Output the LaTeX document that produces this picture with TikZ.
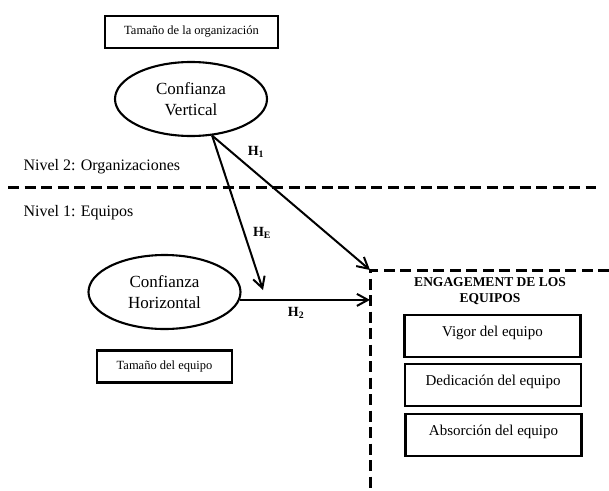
\documentclass[tikz,border=0pt]{standalone}
\usepackage{fontspec}
\setmainfont{Liberation Serif}
\usetikzlibrary{shapes.geometric,arrows.meta,positioning,calc}

\begin{document}
\begin{tikzpicture}[x=1pt, y=-1pt,
  every node/.style={font=\fontsize{16}{19}\selectfont},
  var/.style={draw, ellipse, line width=2.1pt, minimum width=152pt,
              minimum height=74pt, inner sep=0pt, align=center,
              font=\fontsize{17}{21}\selectfont},
  ctrl/.style={draw, line width=2.2pt, inner sep=0pt, minimum height=32pt,
               font=\fontsize{12.5}{15}\selectfont},
  dim/.style={draw, line width=2.2pt, inner sep=0pt, minimum width=176pt,
              minimum height=42pt, text depth=9pt,
              font=\fontsize{15}{18}\selectfont},
  hyp/.style={font=\fontsize{14}{16}\selectfont\bfseries},
  arr/.style={-{Straight Barb[length=11pt,width=12pt,line width=2pt]}, line width=2pt},
  lvl/.style={dash pattern=on 11pt off 5.5pt, line width=3pt}
]
\useasboundingbox (0,0) rectangle (609,490);

%% controls
\node[ctrl, minimum width=173pt] (torg) at (191.5,32) {Tamaño de la organización};
\node[ctrl, minimum width=135pt] (teq)  at (164.5,366.5) {Tamaño del equipo};

%% constructs
\node[var] (cv) at (191,99)  {Confianza\\Vertical};
\node[var] (ch) at (164.5,292) {Confianza\\Horizontal};

%% levels
\coordinate (lvlL) at (8,187);
\coordinate (lvlR) at (596,187);
\draw[lvl] (lvlL) -- (lvlR);
\node[anchor=base west] (n2) at (20,170) {Nivel 2: Organizaciones};
\node[anchor=base west] (n1) at (20,216) {Nivel 1: Equipos};

%% engagement region
\coordinate (corner) at (370,270);
\coordinate (cornerR) at (609,270);
\coordinate (cornerB) at (370,490);
\draw[lvl] (cornerR) -- (corner) -- (cornerB);
\node[font=\fontsize{13.5}{16.5}\selectfont\bfseries, align=center]
  (eng) at (490,291) {ENGAGEMENT DE LOS\\EQUIPOS};
\node[dim] (vig) at (492.5,336) {Vigor del equipo};
\node[dim] (ded) at (493,385)   {Dedicación del equipo};
\node[dim] (abs) at (493.5,435) {Absorción del equipo};

%% hypotheses
\coordinate (he) at (263,290);
\draw[arr] (cv.-60) -- (he);
\draw[arr] (cv.-60) -- (corner);
\draw[arr] (ch.-6) -- (ch.-6 -| corner);
\node[hyp] (h1) at (256,152) {H\textsubscript{1}};
\node[hyp] (hE) at (262,233) {H\textsubscript{E}};
\node[hyp] (h2) at (296,313) {H\textsubscript{2}};

\end{tikzpicture}
\end{document}
